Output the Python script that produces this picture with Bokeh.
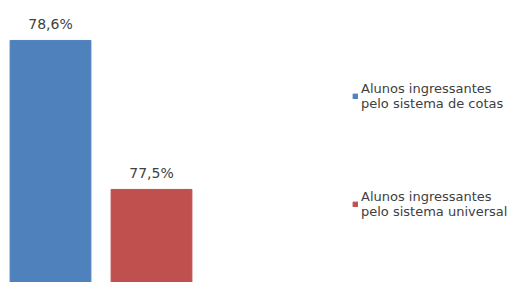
from bokeh.plotting import figure
from bokeh.models import ColumnDataSource, Range1d, Legend, LegendItem, LabelSet
from bokeh.core.properties import value
from bokeh.embed import file_html
from bokeh.resources import INLINE

categories = ["Alunos ingressantes\npelo sistema de cotas", "Alunos ingressantes\npelo sistema universal"]
values = [78.6, 77.5]
colors = ["#4F81BD", "#C0504D"]
positions = [0, 1]
labels = [f"{v:.1f}".replace(".", ",") + "%" for v in values]

src = ColumnDataSource(dict(x=positions, top=values, color=colors, label=labels, cat=categories))

p = figure(width=514, height=282, output_backend="svg", toolbar_location=None,
           x_range=Range1d(-0.495, 4.594), y_range=Range1d(76.813, 78.895),
           min_border=0, min_border_left=0, min_border_right=0, min_border_top=0, min_border_bottom=0)
p.axis.visible = False
p.grid.visible = False
p.outline_line_color = None
p.background_fill_color = "white"

renderers = []
for i in range(len(values)):
    r = p.vbar(x=[positions[i]], top=[values[i]], bottom=76.0, width=0.8,
               fill_color=colors[i], line_color=colors[i])
    renderers.append(r)

ls = LabelSet(x="x", y="top", text="label", source=src, text_align="center",
              text_baseline="middle", y_offset=16, text_font=value("DejaVu Sans"),
              text_font_size="14px", text_color="#404040")
p.add_layout(ls)

legend_y = [171, 63]
for i in range(len(values)):
    lg = Legend(items=[LegendItem(label=categories[i], renderers=[renderers[i]])],
                location=(352, legend_y[i]), orientation="vertical",
                glyph_width=6, glyph_height=6, label_standoff=3, padding=0, margin=0,
                border_line_color=None, background_fill_alpha=0,
                label_text_font="DejaVu Sans", label_text_font_size="13px",
                label_text_color="#404040", label_text_line_height=0.75)
    p.add_layout(lg)

open("out.html", "w").write(file_html(p, INLINE))
